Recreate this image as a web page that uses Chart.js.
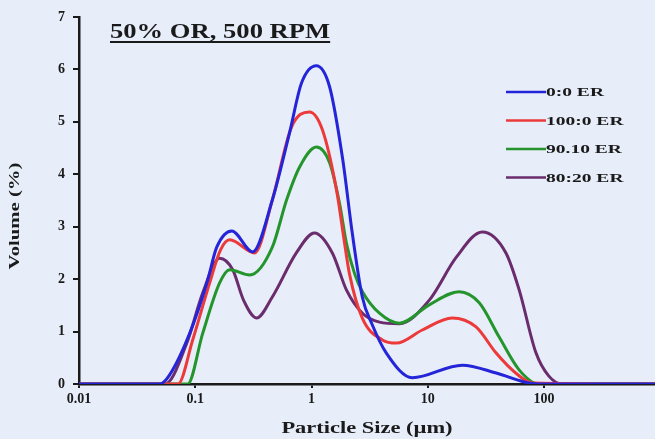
<!DOCTYPE html>
<html>
<head>
<meta charset="utf-8">
<script src="https://cdn.jsdelivr.net/npm/chart.js@4"></script>
<style>
  html, body { margin: 0; padding: 0; background: #e7edf9; }
  #wrap { width: 655px; height: 439px; position: relative; }
</style>
</head>
<body>
<div id="wrap"><canvas id="psd"></canvas></div>
<script>
// particle size (um) and volume (%), one pair of arrays per blend
const sizeER00 = [0.01, 0.0496, 0.060, 0.0897, 0.126, 0.153, 0.206, 0.312, 0.46, 0.647, 0.82, 1.10, 1.43, 1.85, 2.25, 2.74, 3.3, 4.4, 7.36, 19.8, 38.7, 74, 100, 900];
const volER00  = [0, 0, 0.17, 0.97, 1.93, 2.61, 2.92, 2.52, 3.51, 4.79, 5.74, 6.07, 5.67, 4.3, 2.85, 1.65, 1.15, 0.59, 0.12, 0.36, 0.21, 0.02, 0, 0];

const sizeER100 = [0.01, 0.071, 0.095, 0.133, 0.165, 0.198, 0.324, 0.46, 0.673, 0.96, 1.24, 1.64, 1.92, 2.12, 2.74, 4.07, 5.37, 8.97, 16.2, 26, 38.7, 57, 79, 900];
const volER100  = [0, 0, 0.84, 1.93, 2.56, 2.75, 2.5, 3.51, 4.9, 5.19, 4.85, 3.7, 2.7, 2.1, 1.25, 0.84, 0.78, 1.03, 1.26, 1.09, 0.59, 0.21, 0.02, 0];

const sizeER9010 = [0.01, 0.086, 0.116, 0.162, 0.198, 0.294, 0.46, 0.61, 0.79, 1.10, 1.43, 1.74, 1.99, 2.35, 2.74, 3.84, 5.69, 10.3, 18.6, 27.7, 41, 61, 90, 900];
const volER9010  = [0, 0, 0.97, 1.93, 2.18, 2.08, 2.61, 3.51, 4.14, 4.52, 4.22, 3.45, 2.7, 2.1, 1.76, 1.35, 1.16, 1.51, 1.76, 1.55, 0.90, 0.27, 0, 0];

const sizeER8020 = [0.01, 0.055, 0.0845, 0.116, 0.162, 0.21, 0.26, 0.337, 0.46, 0.74, 1.06, 1.51, 2.0, 2.74, 3.84, 5.69, 10.3, 17.6, 29.4, 47, 61, 85, 110, 143, 900];
const volER8020  = [0, 0, 0.78, 1.74, 2.40, 2.18, 1.60, 1.26, 1.66, 2.5, 2.88, 2.5, 1.79, 1.35, 1.18, 1.15, 1.60, 2.42, 2.90, 2.5, 1.8, 0.6, 0.15, 0, 0];

const seriesNames = ["0:0 ER", "100:0 ER", "90.10 ER", "80:20 ER"];
const seriesColors = ["#2424d8", "#ec3a3a", "#24952c", "#6a2c6c"];
const xTicks = [0.01, 0.1, 1, 10, 100];

function pts(xs, ys) {
    return xs.map((x, i) => ({ x: x, y: ys[i] }));
}

const serif = "'Liberation Serif', 'Times New Roman', serif";
const ink = "#1a1a1a";

// the figure uses a wide bold serif, so text is stretched along its baseline
function wideText(c, text, x, y, sx, align) {
    const w = c.measureText(text).width * sx;
    let left = x;
    if (align === "center") left = x - w / 2;
    c.save();
    c.translate(left, y);
    c.scale(sx, 1);
    c.fillText(text, 0, 0);
    c.restore();
    return w;
}

// title, axis titles and legend drawn on the canvas
const overlay = {
    id: "overlay",
    afterDraw(chart) {
        const c = chart.ctx;
        const area = chart.chartArea;
        c.save();
        c.fillStyle = ink;
        c.textAlign = "left";
        c.textBaseline = "alphabetic";

        c.font = "bold 20px " + serif;
        const w = wideText(c, "50% OR, 500 RPM", 110, 38, 1.33, "left");
        c.fillRect(110, 41, w, 2);

        c.font = "bold 17px " + serif;
        wideText(c, "Particle Size (\u00b5m)", (area.left + area.right) / 2, 433, 1.32, "center");

        c.save();
        c.translate(19, 216);
        c.rotate(-Math.PI / 2);
        c.font = "bold 15px " + serif;
        wideText(c, "Volume (%)", 0, 0, 1.38, "center");
        c.restore();

        c.font = "bold 13px " + serif;
        c.textBaseline = "middle";
        chart.data.datasets.forEach((ds, i) => {
            const y = 92 + i * 28.5;
            c.strokeStyle = ds.borderColor;
            c.lineWidth = 2.5;
            c.beginPath();
            c.moveTo(506, y);
            c.lineTo(546, y);
            c.stroke();
            c.fillStyle = ink;
            wideText(c, ds.label, 546, y + 1, 1.5, "left");
        });
        c.restore();
    }
};

const datasets = [
    pts(sizeER00, volER00),
    pts(sizeER100, volER100),
    pts(sizeER9010, volER9010),
    pts(sizeER8020, volER8020)
].map((d, i) => ({
    label: seriesNames[i],
    data: d,
    borderColor: seriesColors[i],
    backgroundColor: seriesColors[i],
    borderWidth: 3,
    pointRadius: 0,
    fill: false,
    cubicInterpolationMode: "monotone"
}));

new Chart(document.getElementById("psd"), {
    type: "line",
    data: { datasets: datasets },
    options: {
        responsive: true,
        maintainAspectRatio: false,
        animation: false,
        layout: { padding: { top: 17, right: 0, left: 0, bottom: 0 } },
        plugins: {
            legend: { display: false },
            tooltip: { enabled: false }
        },
        scales: {
            x: {
                type: "logarithmic",
                min: 0.01,
                max: 900,
                afterBuildTicks: (s) => { s.ticks = xTicks.map(v => ({ value: v })); },
                afterFit: (s) => { s.height = 55; },
                ticks: {
                    color: ink,
                    font: { family: serif, size: 14, weight: "bold" },
                    maxRotation: 0,
                    autoSkip: false,
                    padding: 3,
                    callback: (v) => String(v)
                },
                grid: { drawOnChartArea: false, drawTicks: true, tickLength: 4, color: ink, lineWidth: 2 },
                border: { color: ink, width: 2.5 }
            },
            y: {
                min: 0,
                max: 7,
                afterFit: (s) => { s.width = 79; },
                ticks: {
                    stepSize: 1,
                    color: ink,
                    font: { family: serif, size: 14, weight: "bold" },
                    padding: 8
                },
                grid: { drawOnChartArea: false, drawTicks: true, tickLength: 6, color: ink, lineWidth: 2 },
                border: { color: ink, width: 2.5 }
            }
        }
    },
    plugins: [overlay]
});
</script>
</body>
</html>
